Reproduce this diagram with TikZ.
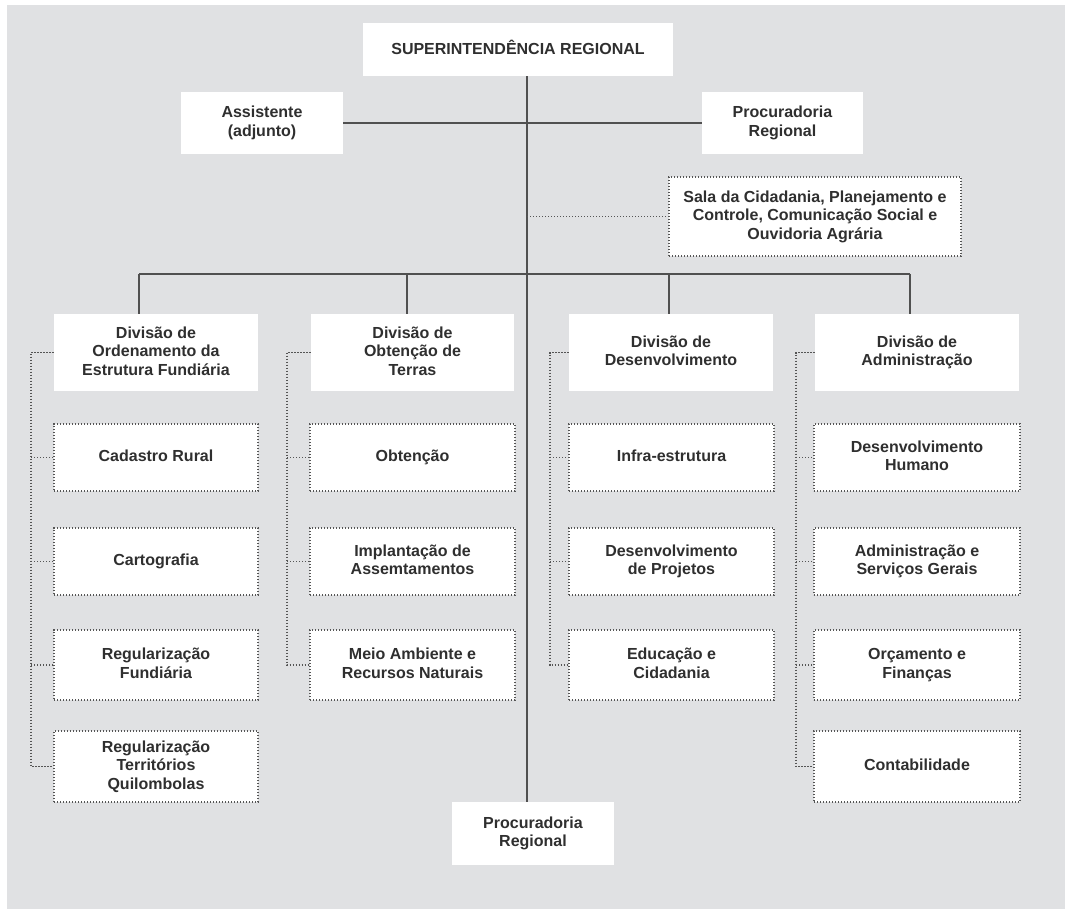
\documentclass[tikz,border=0pt]{standalone}
\usepackage{fontspec}
\setmainfont{Liberation Sans}
\usetikzlibrary{calc}
\definecolor{bggray}{HTML}{E0E1E3}
\definecolor{txtgray}{HTML}{2F2F2F}
\definecolor{linegray}{HTML}{505050}
\definecolor{dotgray}{HTML}{555555}
\tikzset{
  unitbox/.style={fill=white, inner sep=2pt, align=center, text=txtgray,
    execute at begin node={\rule{0pt}{11.5pt}},
    execute at end node={\rule[-3.5pt]{0pt}{3.5pt}},
    font=\fontsize{16}{18.5}\selectfont\bfseries},
  solidbox/.style={unitbox, draw=none},
  dotbox/.style={unitbox, draw=dotgray, line width=1.8pt, dash pattern=on 1.4pt off 1.6pt},
  mainline/.style={draw=linegray, line width=2.2pt},
  dotline/.style={draw=dotgray, line width=1.8pt, dash pattern=on 1.4pt off 1.6pt},
}
\begin{document}
\begin{tikzpicture}[x=1pt, y=-1pt]
\useasboundingbox (0,0) rectangle (1065,909);
\fill[bggray] (7,5) rectangle (1065,909);

% --- top level ---
\node[solidbox, minimum width=310, minimum height=53] (top) at (518,49.5) {SUPERINTENDÊNCIA REGIONAL};
\node[solidbox, minimum width=162, minimum height=62] (asst) at (262,123) {Assistente\\(adjunto)};
\node[solidbox, minimum width=161, minimum height=62] (procA) at (782.5,123) {Procuradoria\\Regional};
\node[dotbox, minimum width=292, minimum height=79] (sala) at (815,216.5) {Sala da Cidadania, Planejamento e\\Controle, Comunicação Social e\\Ouvidoria Agrária};

% --- divisions ---
\node[solidbox, minimum width=204, minimum height=77] (d1) at (156,352.5) {Divisão de\\Ordenamento da\\Estrutura Fundiária};
\node[solidbox, minimum width=203, minimum height=77] (d2) at (412.5,352.5) {Divisão de\\Obtenção de\\Terras};
\node[solidbox, minimum width=204, minimum height=77] (d3) at (671,352.5) {Divisão de\\Desenvolvimento};
\node[solidbox, minimum width=204, minimum height=77] (d4) at (917,352.5) {Divisão de\\Administração};

% --- column 1 ---
\node[dotbox, minimum width=204, minimum height=67] (s11) at (156,457.5) {Cadastro Rural};
\node[dotbox, minimum width=204, minimum height=67] (s12) at (156,561.5) {Cartografia};
\node[dotbox, minimum width=204, minimum height=70] (s13) at (156,665) {Regularização\\Fundiária};
\node[dotbox, minimum width=204, minimum height=71] (s14) at (156,766.5) {Regularização\\Territórios\\Quilombolas};

% --- column 2 ---
\node[dotbox, minimum width=205, minimum height=67] (s21) at (412.5,457.5) {Obtenção};
\node[dotbox, minimum width=205, minimum height=67] (s22) at (412.5,561.5) {Implantação de\\Assemtamentos};
\node[dotbox, minimum width=205, minimum height=70] (s23) at (412.5,665) {Meio Ambiente e\\Recursos Naturais};

% --- column 3 ---
\node[dotbox, minimum width=205, minimum height=67] (s31) at (671.5,457.5) {Infra-estrutura};
\node[dotbox, minimum width=205, minimum height=67] (s32) at (671.5,561.5) {Desenvolvimento\\de Projetos};
\node[dotbox, minimum width=205, minimum height=70] (s33) at (671.5,665) {Educação e\\Cidadania};

% --- column 4 ---
\node[dotbox, minimum width=206, minimum height=67] (s41) at (917,457.5) {Desenvolvimento\\Humano};
\node[dotbox, minimum width=206, minimum height=67] (s42) at (917,561.5) {Administração e\\Serviços Gerais};
\node[dotbox, minimum width=206, minimum height=70] (s43) at (917,665) {Orçamento e\\Finanças};
\node[dotbox, minimum width=206, minimum height=71] (s44) at (917,766.5) {Contabilidade};

% --- bottom ---
\node[solidbox, minimum width=162, minimum height=63] (procB) at (533,833.5) {Procuradoria\\Regional};

% --- solid hierarchy lines ---
\coordinate (m) at (527,0);
\coordinate (b1) at (139,274);
\coordinate (b2) at (407,274);
\coordinate (b3) at (669,274);
\coordinate (b4) at (910,274);
\draw[mainline] (top.south -| m) -- (procB.north -| m);
\draw[mainline] (asst.east) -- (procA.west);
\draw[mainline] (b1) -- (b4);
\draw[mainline] (b1) -- (d1.north -| b1);
\draw[mainline] (b2) -- (d2.north -| b2);
\draw[mainline] (b3) -- (d3.north -| b3);
\draw[mainline] (b4) -- (d4.north -| b4);

% --- dotted staff links ---
\draw[dotline] (sala.west -| m) -- (sala.west);

\coordinate (t1) at (31,0);
\coordinate (t2) at (287,0);
\coordinate (t3) at (550,0);
\coordinate (t4) at (796,0);

\draw[dotline] (d1.west) -- (d1.west -| t1) -- (s14.west -| t1) -- (s14.west);
\foreach \s in {s11,s12,s13} \draw[dotline] (\s.west -| t1) -- (\s.west);

\draw[dotline] (d2.west) -- (d2.west -| t2) -- (s23.west -| t2) -- (s23.west);
\foreach \s in {s21,s22} \draw[dotline] (\s.west -| t2) -- (\s.west);

\draw[dotline] (d3.west) -- (d3.west -| t3) -- (s33.west -| t3) -- (s33.west);
\foreach \s in {s31,s32} \draw[dotline] (\s.west -| t3) -- (\s.west);

\draw[dotline] (d4.west) -- (d4.west -| t4) -- (s44.west -| t4) -- (s44.west);
\foreach \s in {s41,s42,s43} \draw[dotline] (\s.west -| t4) -- (\s.west);
\end{tikzpicture}
\end{document}
